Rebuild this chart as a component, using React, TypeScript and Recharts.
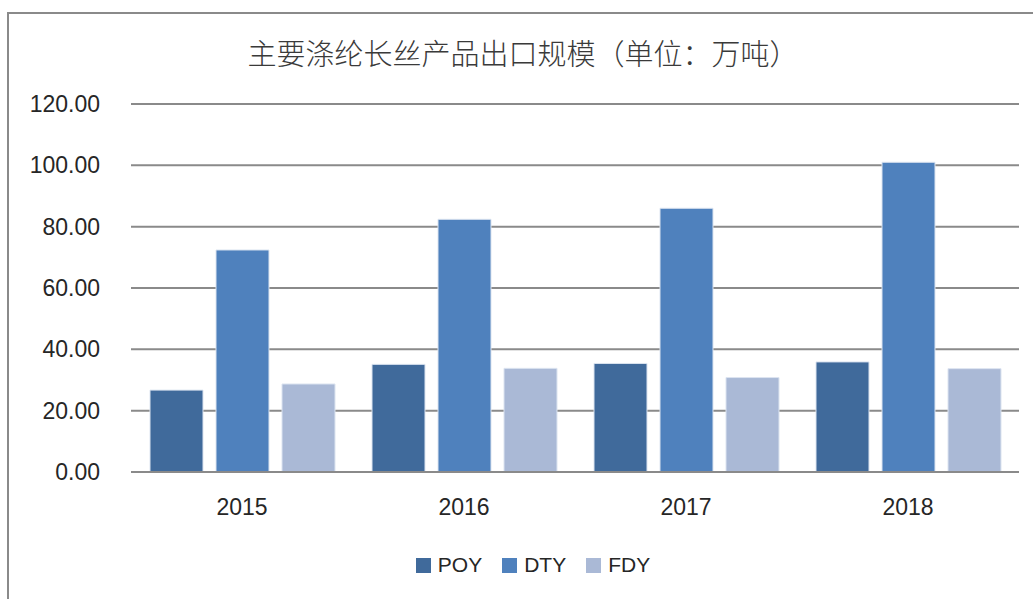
import React from 'react';
import { BarChart, Bar, XAxis, YAxis, CartesianGrid } from 'recharts';

const years = ['2015', '2016', '2017', '2018'];
const poy = [26.7, 35.1, 35.4, 35.9];
const dty = [72.4, 82.4, 86.0, 101.0];
const fdy = [28.7, 33.8, 30.8, 33.7];
const yTicks = [0, 20, 40, 60, 80, 100, 120];

const seriesNames = ['POY', 'DTY', 'FDY'];
const seriesColors = ['#406A9B', '#4F81BD', '#AAB9D6'];

const data = years.map((year, i) => ({ year, POY: poy[i], DTY: dty[i], FDY: fdy[i] }));

const FONT = '"Liberation Sans", Arial, sans-serif';
const GRID = '#8a8a8a';

// legend drawn outside the chart so it doesn't shrink the plot area
const LegendBox = () => (
  <div
    style={{
      position: 'absolute',
      left: 0,
      top: 550,
      width: 1066,
      height: 30,
      display: 'flex',
      justifyContent: 'center',
      alignItems: 'center',
      fontFamily: FONT,
      fontSize: 21,
      color: '#262626',
    }}
  >
    {seriesNames.map((name, i) => (
      <div key={name} style={{ display: 'flex', alignItems: 'center', marginRight: i < 2 ? 20 : 0 }}>
        <span style={{ width: 15, height: 15, background: seriesColors[i], display: 'inline-block', marginRight: 7 }} />
        <span>{name}</span>
      </div>
    ))}
  </div>
);

export default function App() {
  return (
    <div style={{ position: 'absolute', left: 0, top: 0, width: 1033, height: 599, overflow: 'hidden', background: '#fff' }}>
      <style>{'body{margin:0;overflow:hidden}'}</style>
      <div
        style={{
          position: 'absolute',
          left: 7,
          top: 12,
          width: 1100,
          height: 700,
          border: `2px solid ${GRID}`,
        }}
      />
      <div
        style={{
          position: 'absolute',
          left: 0,
          width: 1046,
          top: 31,
          textAlign: 'center',
          fontFamily: '"Noto Sans CJK SC", sans-serif',
          fontSize: 29,
          fontWeight: 300,
          lineHeight: '42px',
          color: '#3a3a3a',
        }}
      >
        主要涤纶长丝产品出口规模（单位：万吨）
      </div>
      <div style={{ position: 'absolute', left: 0, top: 0 }}>
        <BarChart
          width={1033}
          height={599}
          data={data}
          margin={{ top: 104, right: 14, left: 0, bottom: 67 }}
          barGap={13}
          barCategoryGap={19}
        >
          <CartesianGrid vertical={false} stroke={GRID} strokeWidth={2} />
          <XAxis
            dataKey="year"
            axisLine={{ stroke: GRID, strokeWidth: 2 }}
            tickLine={false}
            tickSize={0}
            tickMargin={27}
            height={60}
            tick={{ fill: '#262626', fontSize: 23, fontFamily: FONT }}
          />
          <YAxis
            width={131}
            domain={[0, 120]}
            ticks={yTicks}
            interval={0}
            axisLine={false}
            tickLine={false}
            tickSize={0}
            tickMargin={31}
            tickFormatter={(v) => Number(v).toFixed(2)}
            tick={{ fill: '#262626', fontSize: 23, fontFamily: FONT }}
          />
          {seriesNames.map((name, i) => (
            <Bar
              key={name}
              dataKey={name}
              fill={seriesColors[i]}
              stroke="#dce4f0"
              strokeWidth={1}
              isAnimationActive={false}
            />
          ))}
        </BarChart>
      </div>
      <LegendBox />
    </div>
  );
}
